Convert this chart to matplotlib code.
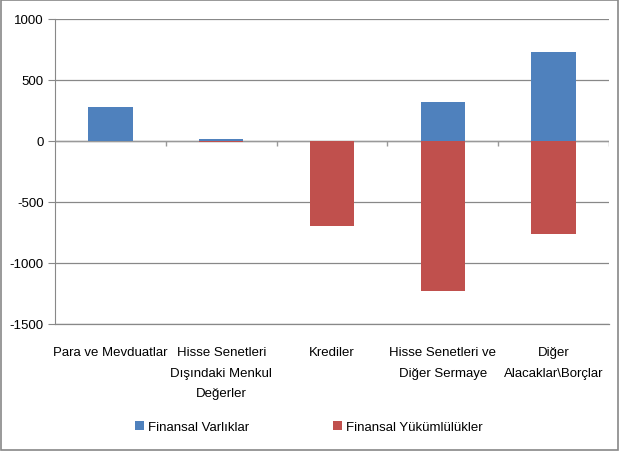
import matplotlib.pyplot as plt
from matplotlib.patches import Rectangle

plt.rcParams['font.family'] = ['Liberation Sans', 'DejaVu Sans']
plt.rcParams['axes.unicode_minus'] = False

categories = ['Para ve Mevduatlar', 'Hisse Senetleri\nDışındaki Menkul\nDeğerler', 'Krediler',
              'Hisse Senetleri ve\nDiğer Sermaye', 'Diğer\nAlacaklar\\Borçlar']
varliklar = [277, 18, 0, 321, 728]
yukumlulukler = [0, -10, -693, -1232, -764]

fig = plt.figure(figsize=(6.19, 4.52), dpi=100)
ax = fig.add_axes([0.0889, 0.281, 0.895, 0.675])

x = list(range(len(categories)))
ax.bar(x, varliklar, width=0.4, color='#4F81BD', label='Finansal Varlıklar', zorder=3)
ax.bar(x, yukumlulukler, width=0.4, color='#C0504D', label='Finansal Yükümlülükler', zorder=3)

ax.set_xlim(-0.5, 4.5)
ax.set_ylim(-1500, 1000)
ax.set_yticks(range(-1500, 1001, 500))
ax.yaxis.grid(True, color='#888888', linewidth=0.9)
ax.set_axisbelow(True)
ax.axhline(0, color='#999999', linewidth=1.0, zorder=2)
ax.vlines([0.5, 1.5, 2.5, 3.5, 4.5], 0, -45, color='#999999', linewidth=1.0, zorder=2)

ax.set_xticks(x)
ax.set_xticklabels(categories, fontsize=9.5, linespacing=1.95, va='top')
ax.tick_params(axis='x', length=0, pad=16)
ax.tick_params(axis='y', labelsize=9.5, length=5, color='#888888', pad=3)
for s in ['top', 'right']:
    ax.spines[s].set_visible(False)
ax.spines['left'].set_color('#888888')
ax.spines['bottom'].set_color('#888888')
ax.spines['bottom'].set_linewidth(0.9)

fig.legend(loc='center', bbox_to_anchor=(0.499, 0.053), ncol=2, frameon=False,
           fontsize=9.5, handlelength=0.7, handleheight=0.7, handletextpad=0.3,
           columnspacing=6.3)

fig.patches.append(Rectangle((0.002, 0.002), 0.996, 0.996, transform=fig.transFigure,
                             fill=False, edgecolor='#888888', linewidth=1.2))

fig.savefig('out.png', dpi=100)
